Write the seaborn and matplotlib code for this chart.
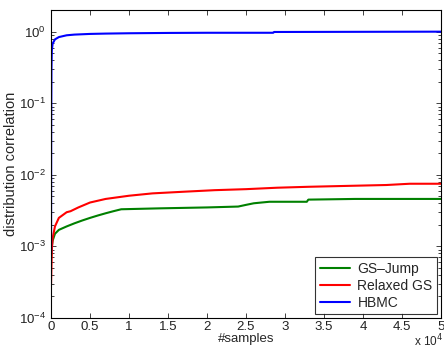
import numpy as np
import pandas as pd
import seaborn as sns
import matplotlib.pyplot as plt
from matplotlib.ticker import FuncFormatter, LogLocator, NullFormatter

# values (x in samples, y on log scale)
gs_x = [0, 100, 200, 500, 1000, 2000, 3000, 4000, 5000, 6000, 7000, 8000, 9000,
        14000, 20000, 24000, 25000, 26000, 27000, 28000, 32800, 33000, 39000, 50000]
gs_y = [0.0007, 0.0010, 0.0012, 0.0015, 0.0017, 0.0019, 0.0021, 0.0023, 0.0025,
        0.0027, 0.0029, 0.0031, 0.0033, 0.0034, 0.0035, 0.0036, 0.0038, 0.0040,
        0.0041, 0.0042, 0.0042, 0.0045, 0.0046, 0.0046]
rgs_x = [0, 100, 200, 500, 1000, 2000, 2500, 3500, 5000, 7000, 10000, 13000,
         17000, 21000, 25000, 29000, 33000, 38000, 43000, 46000, 50000]
rgs_y = [0.0003, 0.0009, 0.0013, 0.0019, 0.0025, 0.0030, 0.0031, 0.0035,
         0.0041, 0.0046, 0.0051, 0.0055, 0.0058, 0.0061, 0.0063, 0.0066,
         0.0068, 0.0070, 0.0072, 0.0075, 0.0075]
hb_x = [0, 20, 50, 100, 200, 500, 1000, 2000, 3000, 5000, 7000, 10000,
        15000, 20000, 28500, 28600, 50000]
hb_y = [0.0008, 0.05, 0.3, 0.55, 0.68, 0.78, 0.84, 0.89, 0.91, 0.93, 0.94,
        0.95, 0.96, 0.965, 0.965, 0.99, 1.0]

labels = ["GS\u2013Jump", "Relaxed GS", "HBMC"]
colors = ["#008000", "#ff0000", "#0000ff"]

sns.set_style("ticks")
plt.rcParams["font.family"] = ["Liberation Sans", "DejaVu Sans"]
plt.rcParams["xtick.direction"] = "in"
plt.rcParams["ytick.direction"] = "in"

fig = plt.figure(figsize=(4.44, 3.49), dpi=100)
ax = fig.add_axes([0.115, 0.089, 0.878, 0.882])

for xs, ys, lab, c in zip([gs_x, rgs_x, hb_x], [gs_y, rgs_y, hb_y], labels, colors):
    df = pd.DataFrame({"x": xs, "y": ys})
    sns.lineplot(data=df, x="x", y="y", ax=ax, color=c, label=lab, lw=1.5,
                 estimator=None)

ax.set_yscale("log")
ax.set_xlim(0, 50000)
ax.set_ylim(1e-4, 2)
ax.set_xticks(np.arange(0, 50001, 5000))
ax.xaxis.set_major_formatter(FuncFormatter(lambda v, p: f"{v/1e4:g}"))
ax.yaxis.set_major_locator(LogLocator(base=10, numticks=10))
ax.yaxis.set_minor_locator(LogLocator(base=10, subs=np.arange(2, 10), numticks=20))
ax.yaxis.set_minor_formatter(NullFormatter())
ax.tick_params(axis="both", which="both", top=True, right=True, labelsize=9.5,
               colors="#222222", width=0.6)
ax.tick_params(which="major", length=3.5)
ax.tick_params(which="minor", length=2)
ax.tick_params(axis="x", pad=2)
for s in ax.spines.values():
    s.set_linewidth(0.8)
    s.set_color("black")

ax.set_xlabel("#samples", fontsize=9.5, labelpad=0)
ax.set_ylabel("distribution correlation", fontsize=10.5, labelpad=1)
fig.text(0.997, 0.0, "x 10$^4$", ha="right", va="bottom", fontsize=8.5)

leg = ax.legend(loc="lower right", fontsize=10, frameon=True, fancybox=False,
                edgecolor="black", handlelength=2.2, borderaxespad=0.25,
                labelspacing=0.2, borderpad=0.35, handletextpad=0.5)
leg.get_frame().set_linewidth(0.8)

fig.savefig("out.png", dpi=100)
